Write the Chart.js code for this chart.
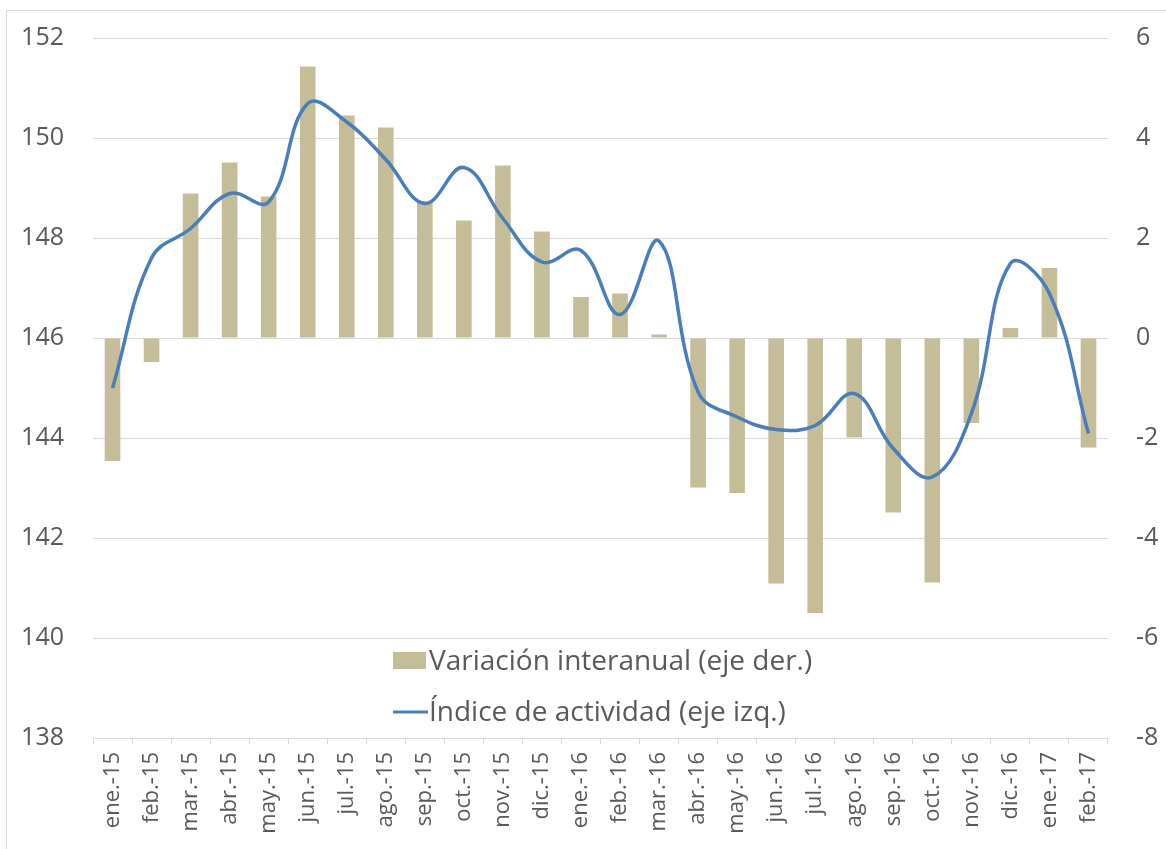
<!DOCTYPE html>
<html>
<head>
<meta charset="utf-8">
<script src="https://cdn.jsdelivr.net/npm/chart.js@4/dist/chart.umd.min.js"></script>
<style>
  html, body { margin: 0; padding: 0; background: #fff; }
  #wrap { width: 1166px; height: 849px; }
</style>
</head>
<body>
<div id="wrap"><canvas id="combo-chart" width="1166" height="849"></canvas></div>
<script>
const meses = ['ene.-15', 'feb.-15', 'mar.-15', 'abr.-15', 'may.-15', 'jun.-15', 'jul.-15', 'ago.-15',
  'sep.-15', 'oct.-15', 'nov.-15', 'dic.-15', 'ene.-16', 'feb.-16', 'mar.-16', 'abr.-16', 'may.-16',
  'jun.-16', 'jul.-16', 'ago.-16', 'sep.-16', 'oct.-16', 'nov.-16', 'dic.-16', 'ene.-17', 'feb.-17'];

// variación interanual (%), eje derecho
const variacion = [-2.46, -0.48, 2.89, 3.51, 2.83, 5.43, 4.45, 4.21, 2.73, 2.35, 3.45, 2.13, 0.82,
  0.89, 0.07, -2.99, -3.10, -4.91, -5.50, -1.99, -3.49, -4.89, -1.70, 0.20, 1.40, -2.19];

// índice de actividad, eje izquierdo
const indice = [145.0, 147.6, 148.19, 148.89, 148.72, 150.69, 150.32, 149.57, 148.69, 149.41, 148.39,
  147.52, 147.75, 146.47, 147.94, 144.92, 144.42, 144.17, 144.25, 144.89, 143.79, 143.22, 144.49,
  147.49, 146.89, 144.09];

const ticksIzq = { min: 138, max: 152, step: 2 };
const ticksDer = { min: -8, max: 6, step: 2 };

const FONT = '"Open Sans", sans-serif';
const GRIS = '#595959';
const GRID = '#D9D9D9';

// leyenda dibujada dentro del área del gráfico, como en el original
const insideLegend = {
  id: 'insideLegend',
  afterDraw(chart) {
    const ctx = chart.ctx;
    const area = chart.chartArea;
    const x0 = area.left + 300;
    const rows = [area.bottom - 68, area.bottom - 17];
    const orden = chart.data.datasets.slice().sort((a, b) => b.order - a.order);
    ctx.save();
    ctx.font = '28px ' + FONT;
    ctx.textBaseline = 'alphabetic';
    orden.forEach((ds, i) => {
      const y = rows[i];
      if (ds.type === 'bar') {
        ctx.fillStyle = ds.backgroundColor;
        ctx.fillRect(x0, y - 18, 33, 17);
      } else {
        ctx.strokeStyle = ds.borderColor;
        ctx.lineWidth = 3;
        ctx.beginPath();
        ctx.moveTo(x0, y - 9);
        ctx.lineTo(x0 + 35, y - 9);
        ctx.stroke();
      }
      ctx.fillStyle = GRIS;
      ctx.fillText(ds.label, x0 + 36, y);
    });
    ctx.restore();
  }
};

const frame = {
  id: 'frame',
  beforeDraw(chart) {
    const ctx = chart.ctx;
    ctx.save();
    ctx.fillStyle = '#fff';
    ctx.fillRect(0, 0, chart.width, chart.height);
    ctx.strokeStyle = GRID;
    ctx.lineWidth = 1;
    ctx.strokeRect(6.5, 10.5, chart.width + 20, chart.height + 20);
    ctx.restore();
  }
};

// el padding de las etiquetas no debe empujar el área del gráfico
function fixY(width) {
  return function (scale) {
    scale.width = width;
    scale.paddingTop = 0;
    scale.paddingBottom = 0;
  };
}

const ctx = document.getElementById('combo-chart').getContext('2d');
new Chart(ctx, {
  data: {
    labels: meses,
    datasets: [
      {
        type: 'line',
        label: 'Índice de actividad (eje izq.)',
        data: indice,
        yAxisID: 'yIzq',
        borderColor: '#4A7EBB',
        borderWidth: 3.5,
        pointRadius: 0,
        tension: 0.4,
        fill: false,
        order: 0
      },
      {
        type: 'bar',
        label: 'Variación interanual (eje der.)',
        data: variacion,
        yAxisID: 'yDer',
        backgroundColor: '#C4BD97',
        barPercentage: 0.4,
        categoryPercentage: 1.0,
        order: 1
      }
    ]
  },
  options: {
    responsive: false,
    animation: false,
    layout: { padding: { top: 38, left: 0, right: 0, bottom: 0 } },
    plugins: {
      legend: { display: false },
      tooltip: { enabled: false }
    },
    scales: {
      x: {
        offset: true,
        grid: { drawOnChartArea: false, drawTicks: true, tickLength: 6, color: GRID, offset: true },
        border: { color: GRID },
        ticks: {
          color: GRIS, font: { family: FONT, size: 22 },
          minRotation: 90, maxRotation: 90, padding: 8, autoSkip: false
        },
        afterFit(scale) { scale.height = 849 - 738; }
      },
      yIzq: {
        position: 'left',
        min: ticksIzq.min, max: ticksIzq.max,
        ticks: { stepSize: ticksIzq.step, color: GRIS, font: { family: FONT, size: 25 }, padding: 29 },
        grid: { color: GRID, drawTicks: false },
        border: { display: false },
        afterFit: fixY(93)
      },
      yDer: {
        position: 'right',
        min: ticksDer.min, max: ticksDer.max,
        ticks: { stepSize: ticksDer.step, color: GRIS, font: { family: FONT, size: 25 }, padding: 28 },
        grid: { drawOnChartArea: false, drawTicks: false },
        border: { display: false },
        afterFit: fixY(1166 - 1108)
      }
    }
  },
  plugins: [frame, insideLegend]
});
</script>
</body>
</html>
